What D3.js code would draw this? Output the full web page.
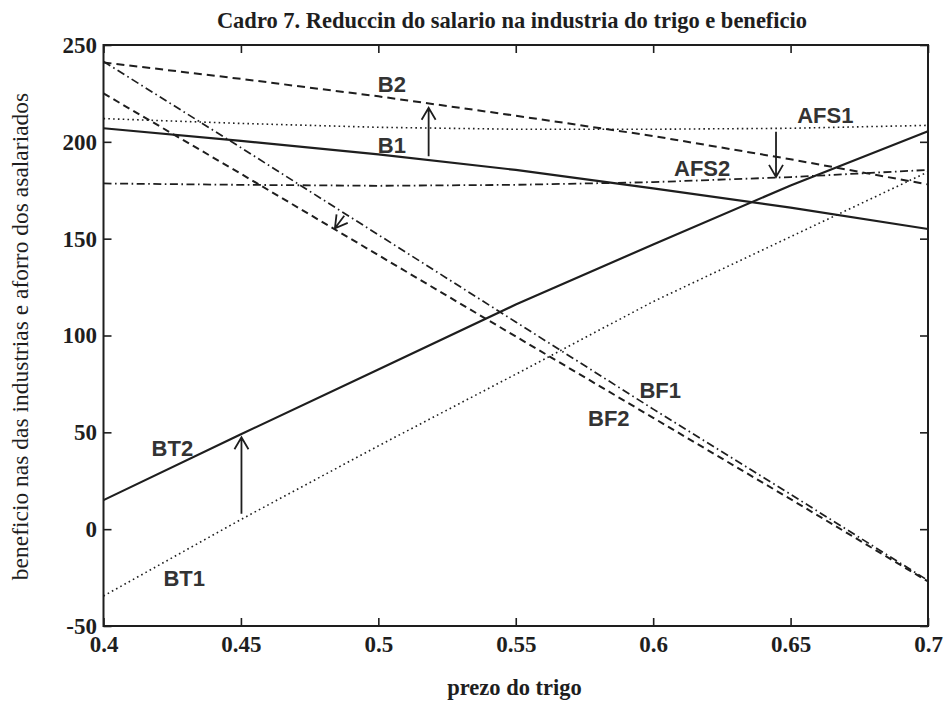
<!DOCTYPE html>
<html>
<head>
<meta charset="utf-8">
<script src="https://cdn.jsdelivr.net/npm/d3@7/dist/d3.min.js"></script>
<style>
  body { margin: 0; background: #fff; }
  svg { display: block; }
</style>
</head>
<body>
<div id="chart"></div>
<script>
// values
const prices = [0.4, 0.45, 0.5, 0.55, 0.6, 0.65, 0.7];
const b1   = [207, 200.5, 193.5, 185.5, 176, 166, 155];
const b2   = [241, 232.5, 223.5, 213.5, 203, 191, 178];
const afs1 = [212, 209.5, 207.5, 206.5, 206.5, 207, 208.5];
const afs2 = [178.5, 177.8, 177.3, 177.8, 179.2, 181.8, 185.5];
const bt1  = [-34.5, 5, 43, 80, 117.5, 151, 184.5];
const bt2  = [15, 49, 82.5, 116, 147, 177.5, 205.5];
const bf1  = [241.5, 197, 152, 107, 62, 18, -26.5];
const bf2  = [225, 183.5, 141.5, 99.5, 57.5, 15.5, -27];

const priceTicks = [0.4, 0.45, 0.5, 0.55, 0.6, 0.65, 0.7];
const priceTickLabels = ["0.4", "0.45", "0.5", "0.55", "0.6", "0.65", "0.7"];
const valueTicks = [-50, 0, 50, 100, 150, 200, 250];

const labelText = ["B2", "B1", "AFS1", "AFS2", "BT2", "BT1", "BF1", "BF2"];
const labelX    = [0.4998, 0.4998, 0.6524, 0.6076, 0.4175, 0.4218, 0.595, 0.5763];
const labelY    = [225.7, 194.2, 209.7, 182.1, 38, -29.2, 67.5, 53.5];

// arrows: [price, value] tail -> tip
const arrowFrom = [[0.5183, 192.6], [0.6447, 205.2], [0.4502, 7.9], [0.4876, 161.8]];
const arrowTo   = [[0.5183, 217.6], [0.6447, 181.9], [0.4502, 47.5], [0.4842, 155.4]];

const titleText = "Cadro 7. Reduccin do salario na industria do trigo e beneficio";
const xLabel = "prezo do trigo";
const yLabel = "beneficio nas das industrias e aforro dos asalariados";

const width = 944;
const height = 703;
const margin = { top: 45, right: 16, bottom: 77, left: 103.5 };
const ink = "#1e1e1e";

const x = d3.scaleLinear().domain([0.4, 0.7]).range([margin.left, width - margin.right]);
const y = d3.scaleLinear().domain([-50, 250]).range([height - margin.bottom, margin.top]);

const svg = d3.select("#chart").append("svg")
    .attr("width", width).attr("height", height);

svg.append("rect").attr("width", width).attr("height", height).attr("fill", "#fff");

const serif = "'Liberation Serif', 'Times New Roman', serif";
const sans = "'Liberation Sans', Arial, sans-serif";

// axes with inward ticks on all four sides
const bottom = svg.append("g")
    .attr("transform", `translate(0,${y(-50)})`)
    .call(d3.axisBottom(x).tickValues(priceTicks)
        .tickFormat((d, i) => priceTickLabels[i])
        .tickSizeInner(-8).tickSizeOuter(0).tickPadding(9.5));
const left = svg.append("g")
    .attr("transform", `translate(${x(0.4)},0)`)
    .call(d3.axisLeft(y).tickValues(valueTicks)
        .tickFormat(d => String(d))
        .tickSizeInner(-8).tickSizeOuter(0).tickPadding(6.5));
svg.append("g")
    .attr("transform", `translate(0,${y(250)})`)
    .call(d3.axisTop(x).tickValues(priceTicks).tickFormat("")
        .tickSizeInner(-8).tickSizeOuter(0));
svg.append("g")
    .attr("transform", `translate(${x(0.7)},0)`)
    .call(d3.axisRight(y).tickValues(valueTicks).tickFormat("")
        .tickSizeInner(-8).tickSizeOuter(0));

svg.selectAll(".domain").remove();
svg.selectAll(".tick line").attr("stroke", ink).attr("stroke-width", 1.6);
svg.selectAll(".tick text")
    .attr("fill", ink)
    .style("font-family", serif)
    .style("font-size", "23px")
    .style("font-weight", "bold");

// frame
svg.append("rect")
    .attr("x", x(0.4)).attr("y", y(250))
    .attr("width", x(0.7) - x(0.4)).attr("height", y(-50) - y(250))
    .attr("fill", "none").attr("stroke", ink).attr("stroke-width", 2);

// curves
const line = d3.line().x((d, i) => x(prices[i])).y(d => y(d));

const series = [
    { values: b1,   dash: null,            w: 2.2 },
    { values: bt2,  dash: null,            w: 2.2 },
    { values: b2,   dash: "8,5",           w: 2 },
    { values: bf2,  dash: "7,4.5",         w: 2 },
    { values: afs1, dash: "1.6,3.2",       w: 1.6 },
    { values: bt1,  dash: "1.6,3.2",       w: 1.6 },
    { values: afs2, dash: "8,3.5,1.6,3.5", w: 1.8 },
    { values: bf1,  dash: "8,3.5,1.6,3.5", w: 1.7 }
];

svg.append("g").selectAll("path")
    .data(series)
    .enter().append("path")
    .attr("d", d => line(d.values))
    .attr("fill", "none")
    .attr("stroke", ink)
    .attr("stroke-width", d => d.w)
    .attr("stroke-dasharray", d => d.dash);

// arrows with open heads
const arrows = svg.append("g");
for (let i = 0; i < arrowFrom.length; i++) {
    const x1 = x(arrowFrom[i][0]), y1 = y(arrowFrom[i][1]);
    const x2 = x(arrowTo[i][0]), y2 = y(arrowTo[i][1]);
    const len = Math.hypot(x2 - x1, y2 - y1);
    const ux = (x2 - x1) / len, uy = (y2 - y1) / len;
    const hl = 12, hw = 7;
    const ax = x2 - ux * hl - uy * hw, ay = y2 - uy * hl + ux * hw;
    const bx = x2 - ux * hl + uy * hw, by = y2 - uy * hl - ux * hw;
    arrows.append("path")
        .attr("d", `M${x1},${y1}L${x2},${y2}M${ax},${ay}L${x2},${y2}L${bx},${by}`)
        .attr("fill", "none")
        .attr("stroke", ink)
        .attr("stroke-width", 1.8);
}

// curve labels
svg.append("g").selectAll("text")
    .data(labelText)
    .enter().append("text")
    .attr("x", (d, i) => x(labelX[i]))
    .attr("y", (d, i) => y(labelY[i]))
    .attr("fill", "#333")
    .style("font-family", sans)
    .style("font-size", "22px")
    .style("font-weight", "bold")
    .text(d => d);

// title and axis labels
svg.append("text")
    .attr("x", 512).attr("y", 28)
    .attr("text-anchor", "middle")
    .attr("fill", ink)
    .style("font-family", serif)
    .style("font-size", "22.5px")
    .style("font-weight", "bold")
    .text(titleText);

svg.append("text")
    .attr("x", 514.5).attr("y", 695)
    .attr("text-anchor", "middle")
    .attr("fill", ink)
    .style("font-family", serif)
    .style("font-size", "22.5px")
    .style("font-weight", "bold")
    .text(xLabel);

svg.append("text")
    .attr("transform", "translate(28,336.5) rotate(-90)")
    .attr("text-anchor", "middle")
    .attr("fill", ink)
    .style("font-family", serif)
    .style("font-size", "23.5px")
    .text(yLabel);
</script>
</body>
</html>
